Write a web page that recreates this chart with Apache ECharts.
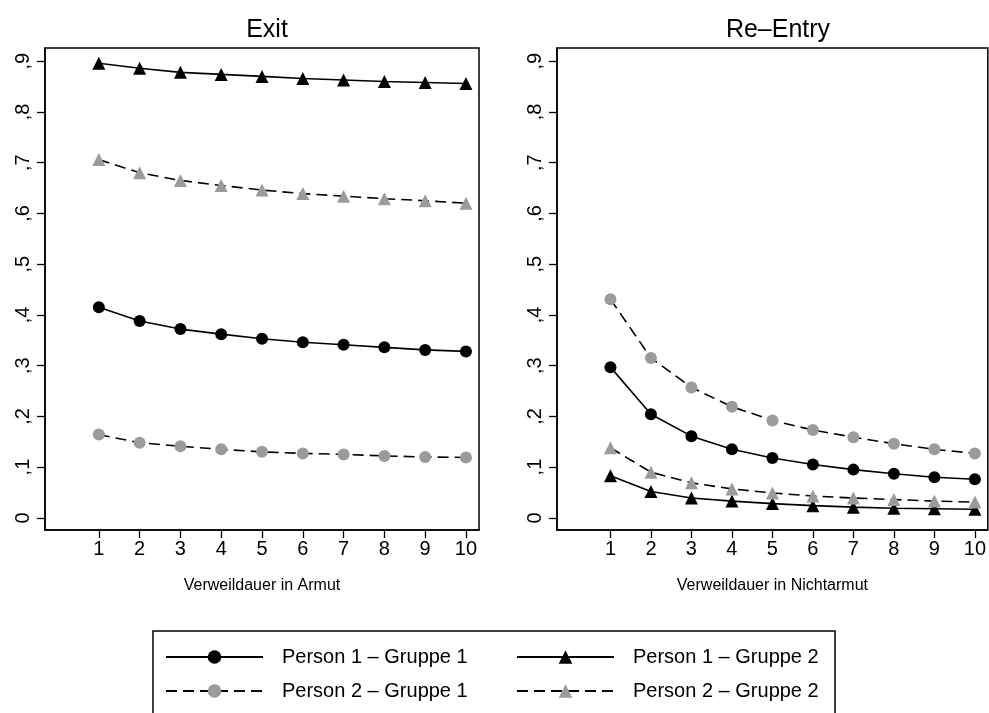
<!DOCTYPE html>
<html>
<head>
<meta charset="utf-8">
<script src="https://cdn.jsdelivr.net/npm/echarts@6/dist/echarts.min.js"></script>
<style>html,body{margin:0;padding:0;background:#fff}#c{width:989px;height:713px}</style>
</head>
<body>
<div id="c"></div>
<script>
const durations = [1, 2, 3, 4, 5, 6, 7, 8, 9, 10];
// Exit panel
const exitP1G1 = [0.415, 0.388, 0.372, 0.362, 0.353, 0.346, 0.341, 0.336, 0.331, 0.328];
const exitP1G2 = [0.896, 0.886, 0.878, 0.874, 0.870, 0.866, 0.863, 0.860, 0.858, 0.856];
const exitP2G1 = [0.164, 0.148, 0.141, 0.135, 0.130, 0.127, 0.125, 0.122, 0.120, 0.119];
const exitP2G2 = [0.706, 0.680, 0.665, 0.655, 0.646, 0.639, 0.634, 0.629, 0.625, 0.620];
// Re-Entry panel
const reP1G1 = [0.297, 0.204, 0.161, 0.135, 0.118, 0.105, 0.095, 0.087, 0.080, 0.076];
const reP1G2 = [0.083, 0.052, 0.039, 0.033, 0.028, 0.024, 0.021, 0.019, 0.018, 0.017];
const reP2G1 = [0.431, 0.315, 0.257, 0.219, 0.192, 0.173, 0.159, 0.146, 0.135, 0.127];
const reP2G2 = [0.138, 0.090, 0.069, 0.057, 0.049, 0.043, 0.039, 0.036, 0.033, 0.031];

const yTickValues = [0, 0.1, 0.2, 0.3, 0.4, 0.5, 0.6, 0.7, 0.8, 0.9];
const yTickLabels = ['0', ',1', ',2', ',3', ',4', ',5', ',6', ',7', ',8', ',9'];
const xTickValues = [1, 2, 3, 4, 5, 6, 7, 8, 9, 10];
const panelTitles = ['Exit', 'Re\u2013Entry'];
const xTitles = ['Verweildauer in Armut', 'Verweildauer in Nichtarmut'];
const names = ['Person 1 \u2013 Gruppe 1', 'Person 1 \u2013 Gruppe 2', 'Person 2 \u2013 Gruppe 1', 'Person 2 \u2013 Gruppe 2'];

const FONT = '"Liberation Sans", Arial, Helvetica, sans-serif';
const GRAY = '#9b9b9b';

function pairs(vals) { return durations.map((d, i) => [d, vals[i]]); }

function mkX(i) {
  return {
    type: 'value', gridIndex: i, min: -0.32, max: 10.32,
    name: xTitles[i], nameLocation: 'middle', nameGap: 48,
    nameTextStyle: { fontFamily: FONT, fontSize: 16, color: '#000' },
    axisLine: { show: true, onZero: false, lineStyle: { color: '#000', width: 1.5 } },
    axisTick: { show: true, length: 8, customValues: xTickValues, lineStyle: { color: '#000', width: 1.3 } },
    axisLabel: { customValues: xTickValues, fontFamily: FONT, fontSize: 20, color: '#000', margin: 9 },
    splitLine: { show: false }
  };
}
function mkY(i) {
  return {
    type: 'value', gridIndex: i, min: -0.024, max: 0.926,
    axisLine: { show: true, onZero: false, lineStyle: { color: '#000', width: 1.5 } },
    axisTick: { show: true, length: 8, customValues: yTickValues, lineStyle: { color: '#000', width: 1.3 } },
    axisLabel: {
      customValues: yTickValues, rotate: 90, fontFamily: FONT, fontSize: 20, color: '#000', margin: 12,
      formatter: v => yTickLabels[Math.round(v * 10)]
    },
    splitLine: { show: false }
  };
}
function mkSeries(name, vals, idx, dashed, gray, tri) {
  return {
    type: 'line', name: name, xAxisIndex: idx, yAxisIndex: idx,
    data: pairs(vals),
    symbol: tri ? 'triangle' : 'circle',
    symbolSize: tri ? 13 : 12,
    showAllSymbol: true,
    lineStyle: { color: '#000', width: 1.6, type: dashed ? [11, 6] : 'solid' },
    itemStyle: { color: gray ? GRAY : '#000', borderWidth: 0 },
    emphasis: { disabled: true },
    animation: false, z: tri ? 3 : 2
  };
}

const chart = echarts.init(document.getElementById('c'), null, { renderer: 'canvas' });
chart.setOption({
  backgroundColor: '#fff',
  animation: false,
  title: [
    { text: panelTitles[0], left: 262, top: 13, textAlign: 'center', textStyle: { fontFamily: FONT, fontSize: 25, fontWeight: 'normal', color: '#000' } },
    { text: panelTitles[1], left: 773, top: 13, textAlign: 'center', textStyle: { fontFamily: FONT, fontSize: 25, fontWeight: 'normal', color: '#000' } }
  ],
  grid: [
    { left: 45, top: 48, width: 434, height: 482, show: true, borderColor: '#000', borderWidth: 1.5, backgroundColor: 'transparent' },
    { left: 557, top: 48, width: 434, height: 482, show: true, borderColor: '#000', borderWidth: 1.5, backgroundColor: 'transparent' }
  ],
  xAxis: [mkX(0), mkX(1)],
  yAxis: [mkY(0), mkY(1)],
  legend: [
    { data: [names[0], names[2]], orient: 'vertical', left: 165, top: 647, padding: 0, itemWidth: 97, itemHeight: 17, itemGap: 14,
      selectedMode: false, textStyle: { fontFamily: FONT, fontSize: 20, color: '#000', padding: [0, 0, 0, 14] } },
    { data: [names[1], names[3]], orient: 'vertical', left: 516, top: 647, padding: 0, itemWidth: 97, itemHeight: 17, itemGap: 14,
      selectedMode: false, textStyle: { fontFamily: FONT, fontSize: 20, color: '#000', padding: [0, 0, 0, 14] } }
  ],
  graphic: [
    { type: 'rect', shape: { x: 153, y: 631, width: 682, height: 120 }, style: { fill: 'none', stroke: '#000', lineWidth: 1.5 } }
  ],
  series: [
    mkSeries(names[0], exitP1G1, 0, false, false, false),
    mkSeries(names[2], exitP2G1, 0, true, true, false),
    mkSeries(names[1], exitP1G2, 0, false, false, true),
    mkSeries(names[3], exitP2G2, 0, true, true, true),
    mkSeries(names[0], reP1G1, 1, false, false, false),
    mkSeries(names[2], reP2G1, 1, true, true, false),
    mkSeries(names[1], reP1G2, 1, false, false, true),
    mkSeries(names[3], reP2G2, 1, true, true, true)
  ]
});
</script>
</body>
</html>
